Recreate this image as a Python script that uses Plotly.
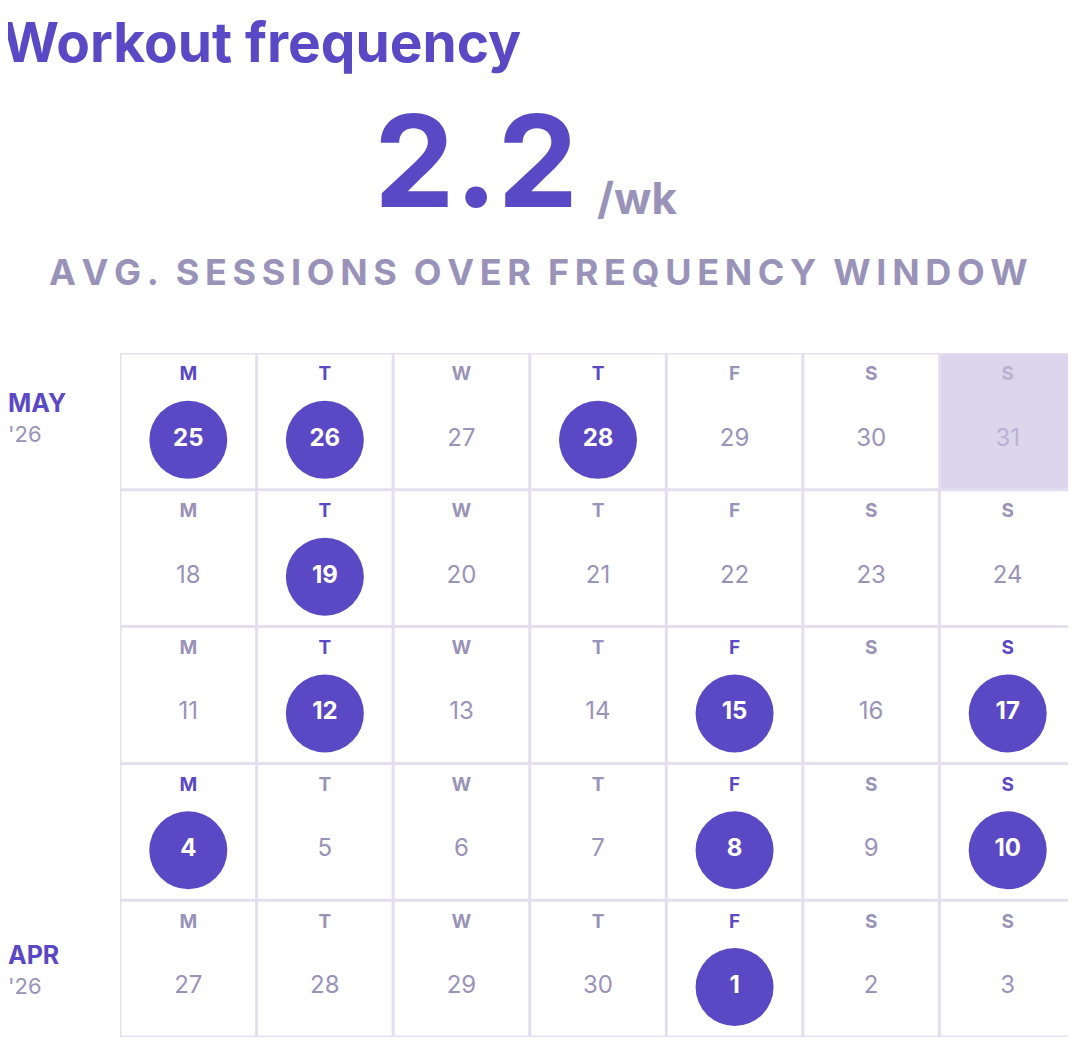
import plotly.graph_objects as go

# calendar data, rows top to bottom (most recent week first)
day_letters = ["M", "T", "W", "T", "F", "S", "S"]
week_days = [
    [25, 26, 27, 28, 29, 30, 31],
    [18, 19, 20, 21, 22, 23, 24],
    [11, 12, 13, 14, 15, 16, 17],
    [4, 5, 6, 7, 8, 9, 10],
    [27, 28, 29, 30, 1, 2, 3],
]
active = [
    [1, 1, 0, 1, 0, 0, 0],
    [0, 1, 0, 0, 0, 0, 0],
    [0, 1, 0, 0, 1, 0, 1],
    [1, 0, 0, 0, 1, 0, 1],
    [0, 0, 0, 0, 1, 0, 0],
]
future = [(0, 6)]  # greyed-out cell
avg_per_week = 2.2

PURPLE = "#5B48C4"
GREY = "#9A93B9"
FAINT = "#B9B3CF"
GRID = "#E3DFEF"
FONT = "Inter"

fig = go.Figure()

xs_c, ys_c, txt_c = [], [], []
for r, row in enumerate(week_days):
    for c, d in enumerate(row):
        if active[r][c]:
            xs_c.append(c + 0.5); ys_c.append(r + 0.635); txt_c.append(str(d))

fig.add_trace(go.Scatter(x=xs_c, y=ys_c, mode="markers+text", text=txt_c,
                         marker=dict(size=78, color=PURPLE, line=dict(width=0)),
                         textfont=dict(family=FONT, size=24, color="white", weight="bold"),
                         textposition="middle center", hoverinfo="skip"))

# inactive numbers and day letters
for r, row in enumerate(week_days):
    for c, d in enumerate(row):
        if not active[r][c]:
            col = FAINT if (r, c) in future else GREY
            fig.add_trace(go.Scatter(x=[c + 0.5], y=[r + 0.635], mode="text", text=[str(d)],
                                     textfont=dict(family=FONT, size=24, color=col),
                                     hoverinfo="skip"))
        lcol = PURPLE if active[r][c] else (FAINT if (r, c) in future else GREY)
        fig.add_trace(go.Scatter(x=[c + 0.5], y=[r + 0.165], mode="text", text=[day_letters[c]],
                                 textfont=dict(family=FONT, size=19, color=lcol, weight="bold"),
                                 hoverinfo="skip"))

shapes = []
for (r, c) in future:
    shapes.append(dict(type="rect", xref="x", yref="y", x0=c, x1=c + 1, y0=r, y1=r + 1,
                       fillcolor="#DCD6EC", line=dict(width=0), layer="below"))
for c in range(8):
    shapes.append(dict(type="line", xref="x", yref="y", x0=c, x1=c, y0=0, y1=5,
                       line=dict(color=GRID, width=3)))
for r in range(6):
    shapes.append(dict(type="line", xref="x", yref="y", x0=0, x1=7, y0=r, y1=r,
                       line=dict(color=GRID, width=3)))

# page body adds an 8px margin; work in reference pixel coords
OFF = 8
W, H = 1076 - OFF, 1053 - OFF
def px(x):
    return (x - OFF) / W
def py(y):
    return 1 - (y - OFF) / H

sub = "\u2009".join("AVG. SESSIONS OVER FREQUENCY WINDOW").replace("\u2009 \u2009", "\u2009\u2009\u2009")
annotations = [
    dict(text="Workout frequency", x=px(0), y=py(42), xanchor="left", yanchor="middle",
         font=dict(family=FONT, size=55, color=PURPLE, weight="bold")),
    dict(text=f"{avg_per_week}", x=px(580), y=py(160), xanchor="right", yanchor="middle",
         font=dict(family=FONT, size=128, color=PURPLE, weight="bold")),
    dict(text="/wk", x=px(595), y=py(198), xanchor="left", yanchor="middle",
         font=dict(family=FONT, size=44, color=GREY, weight="bold")),
    dict(text=sub, x=px(538), y=py(272), xanchor="center", yanchor="middle",
         font=dict(family=FONT, size=36, color=GREY, weight="bold")),
    dict(text="MAY", x=px(6), y=py(403), xanchor="left", yanchor="middle",
         font=dict(family=FONT, size=25, color=PURPLE, weight="bold")),
    dict(text="'26", x=px(6), y=py(434), xanchor="left", yanchor="middle",
         font=dict(family=FONT, size=22, color=GREY)),
    dict(text="APR", x=px(6), y=py(955), xanchor="left", yanchor="middle",
         font=dict(family=FONT, size=25, color=PURPLE, weight="bold")),
    dict(text="'26", x=px(6), y=py(986), xanchor="left", yanchor="middle",
         font=dict(family=FONT, size=22, color=GREY)),
]
for a in annotations:
    a.update(xref="paper", yref="paper", showarrow=False)

fig.update_layout(
    width=W, height=H, margin=dict(l=0, r=0, t=0, b=0),
    paper_bgcolor="white", plot_bgcolor="white", showlegend=False,
    xaxis=dict(range=[0, 7], domain=[px(120), 1], visible=False, fixedrange=True),
    yaxis=dict(range=[5, 0], domain=[py(1037), py(353)], visible=False, fixedrange=True),
    shapes=shapes, annotations=annotations,
)

fig.write_html("out.html")
